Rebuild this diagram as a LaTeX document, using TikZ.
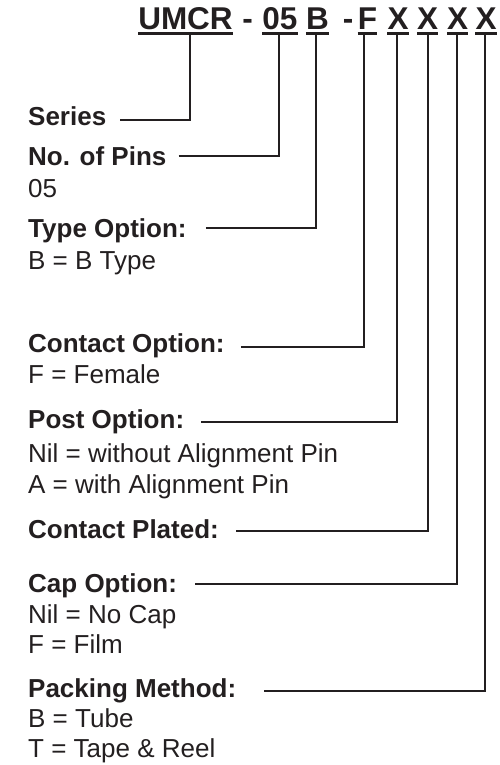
\documentclass[tikz,border=0pt]{standalone}
\usepackage{fontspec}
\setmainfont{Liberation Sans}
\definecolor{ink}{HTML}{231F20}
\begin{document}
\begin{tikzpicture}[x=1pt,y=-1pt,
  hdr/.style={anchor=base west,inner sep=0pt,font=\fontsize{26}{30}\selectfont\bfseries,text=ink},
  val/.style={anchor=base west,inner sep=0pt,font=\fontsize{26}{30}\selectfont,text=ink},
  code/.style={anchor=base,inner sep=0pt,font=\fontsize{31.5}{36}\selectfont\bfseries,text=ink},
  lead/.style={draw=ink,line width=1.8pt},
  uline/.style={draw=ink,line width=2.2pt}]
\useasboundingbox (0,0) rectangle (500,765);
% part number
\node[code] (cU)  at (185.5,29.5) {UMCR};
\node[code] (d1)  at (247.5,29.5) {-};
\node[code] (c05) at (280,29.5)   {05};
\node[code] (cB)  at (317.5,29.5) {B};
\node[code] (d2)  at (348,29.5)   {-};
\node[code] (cF)  at (367.5,29.5) {F};
\node[code] (cX1) at (398,29.5)   {X};
\node[code] (cX2) at (427.5,29.5) {X};
\node[code] (cX3) at (457.5,29.5) {X};
\node[code] (cX4) at (486,29.5)   {X};
\foreach \n in {cU,c05,cB,cF,cX1,cX2,cX3,cX4}
  \draw[uline] (\n.base west |- 0,33.5) -- (\n.base east |- 0,33.5);
\coordinate (tU)  at (190,33.5);
\coordinate (t05) at (279,33.5);
\coordinate (tB)  at (316,33.5);
\coordinate (tF)  at (364,33.5);
\coordinate (tX1) at (397,33.5);
\coordinate (tX2) at (428,33.5);
\coordinate (tX3) at (457,33.5);
\coordinate (tX4) at (485,33.5);
% descriptions
\node[hdr] (ser)   at (28,125) {Series};
\node[hdr] (pin)   at (28,165) {No. of Pins};
\node[val] (pinv)  at (28,197) {05};
\node[hdr] (typ)   at (28,237) {Type Option:};
\node[val] (typv)  at (28,269) {B = B Type};
\node[hdr] (con)   at (28,352) {Contact Option:};
\node[val] (conv)  at (28,383) {F = Female};
\node[hdr] (pst)   at (28,428) {Post Option:};
\node[val] (pstv1) at (28,462) {Nil = without Alignment Pin};
\node[val] (pstv2) at (28,493) {A = with Alignment Pin};
\node[hdr] (pla)   at (28,538) {Contact Plated:};
\node[hdr] (cap)   at (28,592) {Cap Option:};
\node[val] (capv1) at (28,623) {Nil = No Cap};
\node[val] (capv2) at (28,653) {F = Film};
\node[hdr] (pak)   at (28,697) {Packing Method:};
\node[val] (pakv1) at (28,727) {B = Tube};
\node[val] (pakv2) at (28,757) {T = Tape \& Reel};
% leaders
\draw[lead] ([xshift=14pt,yshift=5pt]ser.base east) -| (tU);
\draw[lead] ([xshift=12pt,yshift=9pt]pin.base east) -| (t05);
\draw[lead] ([xshift=19pt,yshift=9pt]typ.base east) -| (tB);
\draw[lead] ([xshift=16pt,yshift=5pt]con.base east) -| (tF);
\draw[lead] ([xshift=17pt,yshift=6pt]pst.base east) -| (tX1);
\draw[lead] ([xshift=17pt,yshift=7pt]pla.base east) -| (tX2);
\draw[lead] ([xshift=18pt,yshift=8pt]cap.base east) -| (tX3);
\draw[lead] ([xshift=28pt,yshift=6pt]pak.base east) -| (tX4);
\end{tikzpicture}
\end{document}
